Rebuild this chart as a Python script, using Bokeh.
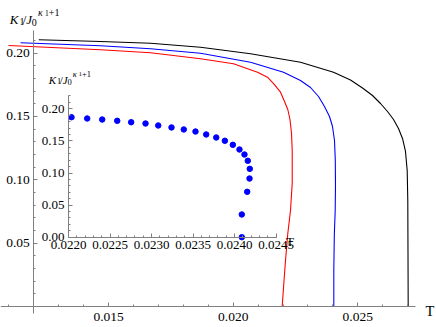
import numpy as np
from bokeh.plotting import figure
from bokeh.models import LinearAxis, FixedTicker, Range1d, Label, NumeralTickFormatter
from bokeh.embed import file_html
from bokeh.resources import INLINE

# ---------------- data ----------------
T_black = [0.012199, 0.014675, 0.016681, 0.018688, 0.020694, 0.022701, 0.024025, 0.024707,
           0.025189, 0.025590, 0.025911, 0.026192, 0.026433, 0.026633, 0.026794, 0.026914,
           0.026982, 0.027006, 0.027014, 0.027022]
K_black = [0.21050, 0.20916, 0.20782, 0.20466, 0.19945, 0.19282, 0.18493, 0.17877,
           0.17245, 0.16654, 0.16022, 0.15391, 0.14759, 0.14049, 0.13260, 0.12234,
           0.10734, 0.08366, 0.04420, 0.0]

T_blue = [0.011465, 0.014675, 0.016681, 0.018688, 0.020694, 0.022019, 0.022701, 0.023102,
          0.023423, 0.023664, 0.023864, 0.023985, 0.024065, 0.024097, 0.024105, 0.024093,
          0.024057, 0.024037, 0.024037]
K_blue = [0.20813, 0.20576, 0.20339, 0.19992, 0.19282, 0.18493, 0.17837, 0.17285,
          0.16575, 0.15785, 0.14996, 0.14207, 0.13102, 0.11523, 0.09550, 0.07577,
          0.05604, 0.02841, 0.0]

T_red = [0.010983, 0.014675, 0.016681, 0.018688, 0.020012, 0.020975, 0.021376, 0.021629,
         0.021898, 0.022059, 0.022191, 0.022279, 0.022340, 0.022368, 0.022368, 0.022299,
         0.022191, 0.022099, 0.022031, 0.021966]
K_red = [0.20600, 0.20260, 0.20024, 0.19550, 0.19155, 0.18493, 0.18098, 0.17577,
         0.16914, 0.16180, 0.15549, 0.14759, 0.13654, 0.12313, 0.09708, 0.07577,
         0.05762, 0.03631, 0.01815, 0.0]

T_inset = [0.022036, 0.022225, 0.022406, 0.022587, 0.022755, 0.022928, 0.023081, 0.023241,
           0.023389, 0.023530, 0.023659, 0.023780, 0.023884, 0.023980, 0.024060, 0.024120,
           0.024160, 0.024184, 0.024181, 0.024153, 0.024088, 0.024088]
K_inset = [0.1869, 0.1849, 0.1833, 0.1813, 0.1791, 0.1771, 0.1740, 0.1709,
           0.1678, 0.1646, 0.1600, 0.1553, 0.1502, 0.1439, 0.1366, 0.1288,
           0.1190, 0.1065, 0.0914, 0.0707, 0.0354, 0.0]

main_xticks = [0.015, 0.020, 0.025]
main_xtick_labels = ["0.015", "0.020", "0.025"]
main_yticks = [0.05, 0.10, 0.15, 0.20]
main_ytick_labels = ["0.05", "0.10", "0.15", "0.20"]
inset_xticks = [0.0220, 0.0225, 0.0230, 0.0235, 0.0240, 0.0245]
inset_xtick_labels = ["0.0220", "0.0225", "0.0230", "0.0235", "0.0240", "0.0245"]
inset_yticks = [0.00, 0.05, 0.10, 0.15, 0.20]
inset_ytick_labels = ["0.00", "0.05", "0.10", "0.15", "0.20"]

# ---------------- layout ----------------
W, H = 436, 327
PX0, PY0 = 0, 0
T0, T1 = 0.0106621, 0.028158
K0, K1 = -0.016575, 0.241515
IT0, IT1 = 0.0211807, 0.0264337
IK0, IK1 = -0.14065, 0.368692

FONT = "Liberation Serif"
AX_COL = "#808080"

p = figure(width=W, height=H, x_range=Range1d(T0, T1), y_range=Range1d(K0, K1),
           output_backend="svg", toolbar_location=None, x_axis_type=None, y_axis_type=None,
           min_border=0, min_border_left=0, min_border_right=0, min_border_top=0,
           min_border_bottom=0)
p.title = None
p.outline_line_color = None
p.xgrid.visible = False
p.ygrid.visible = False
p.background_fill_color = "white"
p.border_fill_color = "white"

p.extra_x_ranges = {"ix": Range1d(IT0, IT1)}
p.extra_y_ranges = {"iy": Range1d(IK0, IK1)}


def style_axis(ax, standoff, size="13px"):
    ax.axis_line_color = AX_COL
    ax.major_tick_line_color = AX_COL
    ax.minor_tick_line_color = AX_COL
    ax.major_tick_out = 0
    ax.minor_tick_out = 0
    ax.major_tick_in = 4
    ax.minor_tick_in = 2
    ax.major_label_text_font = FONT
    ax.major_label_text_font_size = size
    ax.major_label_text_color = "black"
    ax.major_label_standoff = standoff


def overrides(ticks, labels):
    return {float(t): s for t, s in zip(ticks, labels)}


# main axes
xax = LinearAxis(fixed_location=0.0, bounds=(T0, 0.027315),
                 ticker=FixedTicker(ticks=main_xticks,
                                    minor_ticks=list(np.round(np.arange(0.011, 0.0275, 0.001), 4))),
                 formatter=NumeralTickFormatter(format="0.000"))
xax.major_label_overrides = overrides(main_xticks, main_xtick_labels)
style_axis(xax, 7, "13.5px")
p.add_layout(xax, "below")

yax = LinearAxis(fixed_location=0.012, bounds=(-0.0055, 0.2178),
                 ticker=FixedTicker(ticks=main_yticks,
                                    minor_ticks=list(np.round(np.arange(0.0, 0.215, 0.01), 3))),
                 formatter=NumeralTickFormatter(format="0.00"))
yax.major_label_overrides = overrides(main_yticks, main_ytick_labels)
style_axis(yax, 4, "13.5px")
p.add_layout(yax, "left")

# inset axes
ixax = LinearAxis(x_range_name="ix", y_range_name="iy", fixed_location=0.0,
                  bounds=(0.0220, 0.02451),
                  ticker=FixedTicker(ticks=inset_xticks,
                                     minor_ticks=list(np.round(np.arange(0.0220, 0.02455, 0.0001), 5))),
                  formatter=NumeralTickFormatter(format="0.0000"))
ixax.major_label_overrides = overrides(inset_xticks, inset_xtick_labels)
style_axis(ixax, 4)
p.add_layout(ixax, "below")

iyax = LinearAxis(x_range_name="ix", y_range_name="iy", fixed_location=0.0220,
                  bounds=(0.0, 0.2206),
                  ticker=FixedTicker(ticks=inset_yticks,
                                     minor_ticks=list(np.round(np.arange(0.0, 0.225, 0.01), 3))),
                  formatter=NumeralTickFormatter(format="0.00"))
iyax.major_label_overrides = overrides(inset_yticks, inset_ytick_labels)
style_axis(iyax, 4)
p.add_layout(iyax, "left")

# curves
p.line(T_red, K_red, line_color="#ff0000", line_width=1.1)
p.line(T_blue, K_blue, line_color="#0000ff", line_width=1.1)
p.line(T_black, K_black, line_color="#000000", line_width=1.1)
p.scatter(T_inset, K_inset, x_range_name="ix", y_range_name="iy",
          size=5.5, fill_color="#0000ff", line_color="#0000ff")


# ---------------- text ----------------
def page_to_main(px, py):
    t = T0 + (px - PX0) / W * (T1 - T0)
    k = K1 - (py - PY0) / H * (K1 - K0)
    return t, k


def math_label(px, py, scale, base):
    # pieces: text, dx, dy(down), size factor, italic
    pieces = [("K", 0.0, 0.0, 1.0, True),
              ("1", 9.7, 2.3, 0.77, False),
              ("/", 12.9, 0.0, 1.0, False),
              ("J", 16.5, 0.0, 1.0, True),
              ("0", 21.9, 3.3, 0.77, False),
              ("\u03ba", 28.3, -6.7, 0.77, True),
              ("1", 35.3, -6.0, 0.58, False),
              ("+1", 39.0, -6.7, 0.77, False)]
    x, y = page_to_main(px, py)
    for txt, dx, dy, f, it in pieces:
        p.add_layout(Label(x=x, y=y, x_offset=dx * scale, y_offset=-dy * scale, text=txt,
                           text_font=FONT, text_font_size=f"{base * f:.1f}px",
                           text_font_style="italic" if it else "normal",
                           text_color="black", text_align="left",
                           text_baseline="alphabetic"))


math_label(9.3, 18.5, 1.0, 13)
math_label(48.3, 79.0, 0.85, 11)

tx, ty = page_to_main(425, 310)
p.add_layout(Label(x=tx, y=ty, text="T", text_font=FONT, text_font_size="14.5px",
                   text_color="black", text_align="left", text_baseline="alphabetic"))
tx, ty = page_to_main(285.5, 240.5)
p.add_layout(Label(x=tx, y=ty, text="T", text_font=FONT, text_font_size="13px",
                   text_color="black", text_align="left", text_baseline="alphabetic"))

open("out.html", "w").write(file_html(p, INLINE))
